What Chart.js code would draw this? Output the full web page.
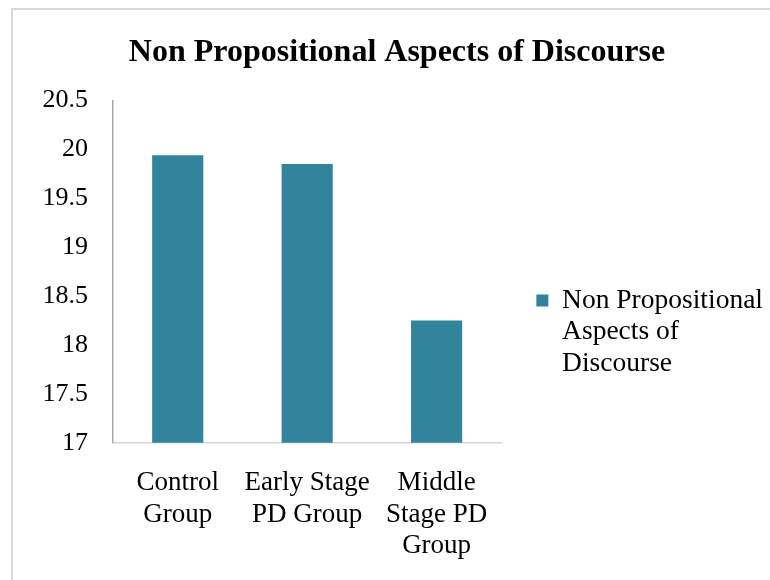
<!DOCTYPE html>
<html>
<head>
<meta charset="utf-8">
<script src="https://cdn.jsdelivr.net/npm/chart.js@4/dist/chart.umd.min.js"></script>
<style>
  html, body { margin: 0; padding: 0; background: #ffffff; overflow: hidden; width: 770px; height: 580px; }
  #wrap { position: absolute; left: 12px; top: 9px; width: 770px; height: 580px; }
  #frame { position: absolute; left: 11px; top: 8px; width: 900px; height: 700px;
           border-top: 2px solid #d9d9d9; border-left: 2px solid #d9d9d9; pointer-events: none; z-index: 2; }
</style>
</head>
<body>
<div id="wrap"><canvas id="c" width="770" height="580"></canvas></div>
<div id="frame"></div>
<script>
const chartTitle = 'Non Propositional Aspects of Discourse';
const categories = [['Control', 'Group'], ['Early Stage', 'PD Group'], ['Middle', 'Stage PD', 'Group']];
const seriesName = ['Non Propositional', 'Aspects of', 'Discourse'];
const seriesValues = [19.94, 19.85, 18.25];
const yTickValues = [17, 17.5, 18, 18.5, 19, 19.5, 20, 20.5];
const yTickLabels = ['17', '17.5', '18', '18.5', '19', '19.5', '20', '20.5'];

const serif = "'Liberation Serif', 'Times New Roman', serif";

new Chart(document.getElementById('c'), {
  type: 'bar',
  data: {
    labels: categories,
    datasets: [{
      label: seriesName,
      data: seriesValues,
      backgroundColor: '#31849b',
      borderWidth: 0,
      barPercentage: 0.395,
      categoryPercentage: 1.0
    }]
  },
  options: {
    responsive: false,
    animation: false,
    layout: { padding: { left: 9, right: 9, top: 0, bottom: 3 } },
    plugins: {
      title: {
        display: true,
        text: chartTitle,
        color: '#000000',
        font: { family: serif, size: 32, weight: 'bold', lineHeight: 1.2 },
        padding: { top: 25, bottom: 28 }
      },
      legend: {
        display: true,
        position: 'right',
        align: 'center',
        maxWidth: 400,
        title: { display: true, text: '', font: { size: 12 }, padding: { top: 59, bottom: 0 } },
        labels: {
          color: '#000000',
          font: { family: serif, size: 27.5, lineHeight: 1.15 },
          boxWidth: 12,
          boxHeight: 12,
          padding: 35
        }
      },
      tooltip: { enabled: false }
    },
    scales: {
      x: {
        grid: { display: false, drawTicks: false },
        border: { display: true, color: '#d6d6d6', width: 1.5 },
        ticks: {
          color: '#000000',
          font: { family: serif, size: 27, lineHeight: 1.15 },
          padding: 25,
          maxRotation: 0,
          autoSkip: false
        }
      },
      y: {
        min: 17,
        max: 20.5,
        grid: { display: false, drawTicks: false },
        border: { display: true, color: '#a8a8a8', width: 1.5 },
        afterBuildTicks: (axis) => { axis.ticks = yTickValues.map(v => ({ value: v })); },
        afterFit: (axis) => { axis.width = 92; },
        ticks: {
          color: '#000000',
          font: { family: serif, size: 26, lineHeight: 1.2 },
          padding: 25,
          callback: (value) => {
            const i = yTickValues.indexOf(value);
            return i >= 0 ? yTickLabels[i] : '';
          }
        }
      }
    }
  }
});
</script>
</body>
</html>
